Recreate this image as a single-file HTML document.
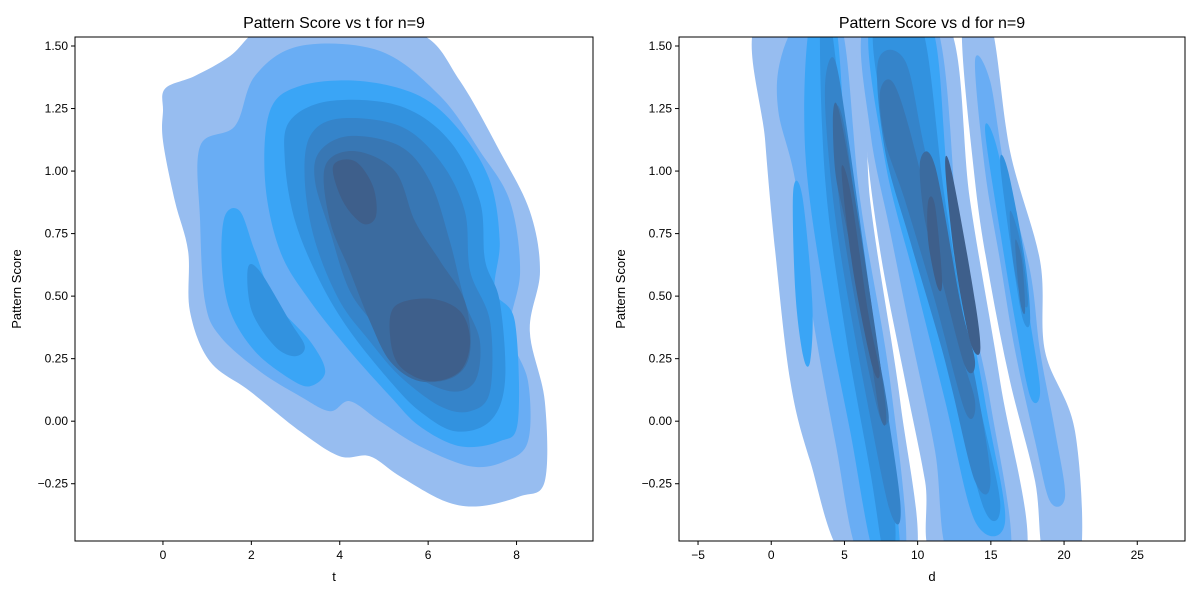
<!DOCTYPE html>
<html><head><meta charset="utf-8"><title>Pattern Score KDE</title>
<style>
html,body{margin:0;padding:0;background:#fff;}
svg{display:block;font-family:"Liberation Sans","DejaVu Sans",sans-serif;}
</style></head>
<body>
<svg id="chart" width="1200" height="600" viewBox="0 0 1200 600" xmlns="http://www.w3.org/2000/svg"></svg>
<script>
// ---------- data ----------
const levelColors = ["#97bdf0","#69adf4","#3aa5f6","#3292df","#3584ca","#3877b4","#3b6b9f","#3e5f8b"];
const leftXTicks = [0,2,4,6,8];
const rightXTicks = [-5,0,5,10,15,20,25];
const yTicks = [-0.25,0,0.25,0.5,0.75,1.0,1.25,1.5];
const yTickLabels = ["\u22120.25","0.00","0.25","0.50","0.75","1.00","1.25","1.50"];

// left: [level, points(t, score)]
const leftContours = [
 [0,[[0,1.24],[0.05,1.33],[0.72,1.38],[1.52,1.46],[2.31,1.58],[3.78,1.6],[5.81,1.55],[6.72,1.36],[7.62,1.08],[8.30,0.84],[8.53,0.60],[8.30,0.36],[8.64,0.08],[8.64,-0.24],[8.08,-0.30],[7.17,-0.34],[6.38,-0.32],[5.36,-0.22],[4.68,-0.14],[4.0,-0.14],[3.10,-0.04],[1.97,0.12],[1.06,0.24],[0.61,0.44],[0.57,0.68],[0.27,0.88],[0,1.12]]],
 [1,[[0.84,1.10],[1.63,1.18],[2.08,1.38],[3.10,1.50],[4.91,1.48],[6.27,1.30],[7.17,1.08],[7.85,0.88],[8.08,0.60],[7.85,0.36],[8.26,0.16],[8.26,-0.08],[7.74,-0.16],[6.95,-0.18],[5.81,-0.10],[4.91,0.0],[4.23,0.08],[3.78,0.04],[3.10,0.10],[2.19,0.20],[1.29,0.34],[0.95,0.48],[0.84,0.80]]],
 [2,[[1.40,0.82],[1.74,0.84],[2.08,0.68],[2.53,0.48],[3.33,0.32],[3.67,0.20],[3.33,0.14],[2.87,0.17],[2.08,0.28],[1.52,0.44],[1.33,0.64]]],
 [2,[[2.42,1.24],[3.10,1.34],[4.46,1.36],[5.81,1.30],[6.72,1.16],[7.40,0.96],[7.62,0.72],[7.51,0.52],[7.96,0.40],[8.03,0.0],[7.62,-0.08],[6.72,-0.10],[5.81,-0.02],[5.14,0.10],[4.23,0.28],[3.33,0.48],[2.65,0.68],[2.31,0.96]]],
 [3,[[1.92,0.61],[2.19,0.60],[2.87,0.40],[3.21,0.30],[2.99,0.26],[2.53,0.30],[2.01,0.44]]],
 [3,[[2.87,1.20],[3.78,1.28],[5.36,1.26],[6.49,1.12],[7.17,0.88],[7.29,0.64],[7.62,0.48],[7.74,0.16],[7.40,0.0],[6.61,-0.04],[5.81,0.04],[5.14,0.16],[4.23,0.36],[3.55,0.56],[2.99,0.80],[2.76,1.04]]],
 [4,[[3.33,1.14],[4.0,1.21],[5.36,1.18],[6.27,1.04],[6.83,0.84],[6.95,0.60],[7.40,0.40],[7.40,0.12],[6.95,0.04],[6.27,0.06],[5.36,0.18],[4.68,0.32],[4.0,0.48],[3.44,0.72],[3.21,0.96]]],
 [5,[[3.55,1.08],[4.23,1.14],[5.36,1.10],[6.04,0.96],[6.49,0.72],[6.83,0.48],[7.17,0.32],[7.06,0.16],[6.49,0.12],[5.59,0.20],[4.91,0.36],[4.23,0.52],[3.78,0.76],[3.44,0.96]]],
 [6,[[3.67,1.02],[4.34,1.08],[5.25,1.00],[5.70,0.80],[6.27,0.64],[6.83,0.48],[6.95,0.28],[6.61,0.18],[5.81,0.16],[5.14,0.24],[4.68,0.40],[4.23,0.60],[3.78,0.80]]],
 [7,[[3.85,1.02],[4.34,1.04],[4.75,0.94],[4.82,0.82],[4.52,0.79],[4.07,0.88]]],
 [7,[[5.25,0.46],[6.04,0.49],[6.72,0.44],[6.95,0.32],[6.72,0.20],[6.04,0.16],[5.36,0.22],[5.14,0.34]]]
];
// right: [level, points(d, score)]
const rightContours = [
 [0,[[-0.96,1.6],[5.73,1.6],[6.76,0.88],[8.81,0.08],[9.83,-0.55],[5.05,-0.55],[2.66,-0.16],[1.30,0.16],[0.27,0.68],[-0.41,1.12]]],
 [0,[[6.21,1.6],[12.0,1.6],[13.58,0.88],[15.63,0.16],[17.34,-0.55],[11.19,-0.55],[10.51,-0.24],[9.15,0.16],[7.44,0.68],[6.42,1.16]]],
 [0,[[13.04,1.6],[14.95,1.6],[16.31,1.08],[18.36,0.64],[18.70,0.28],[20.75,-0.04],[21.09,-0.55],[18.70,-0.55],[18.02,-0.24],[16.31,0.16],[14.95,0.56],[13.92,0.96]]],
 [1,[[1.98,1.6],[4.71,1.6],[6.08,0.88],[8.12,0.16],[9.15,-0.55],[6.08,-0.55],[4.37,-0.08],[2.66,0.48],[1.64,0.96],[0.48,1.24],[0.61,1.44]]],
 [1,[[6.42,1.6],[11.19,1.6],[12.90,0.68],[14.95,0.08],[16.31,-0.55],[12.22,-0.55],[11.19,-0.12],[9.49,0.36],[8.12,0.76],[6.76,1.16]]],
 [1,[[13.92,1.44],[14.95,1.36],[15.97,1.00],[17.68,0.60],[18.36,0.28],[19.39,-0.04],[20.07,-0.30],[19.04,-0.32],[18.02,-0.08],[16.66,0.28],[15.63,0.64],[14.61,1.00]]],
 [2,[[2.66,1.6],[4.37,1.6],[5.39,0.88],[7.44,0.16],[8.81,-0.55],[7.10,-0.55],[5.39,-0.04],[3.69,0.48],[2.32,1.08]]],
 [2,[[1.50,0.92],[2.12,0.90],[2.80,0.48],[2.66,0.24],[2.18,0.26],[1.64,0.52]]],
 [2,[[6.76,1.6],[10.85,1.6],[12.22,0.88],[14.61,0.08],[15.97,-0.40],[13.92,-0.40],[11.88,0.08],[9.83,0.56],[7.78,1.04]]],
 [2,[[14.61,1.16],[15.29,1.12],[16.66,0.76],[17.68,0.40],[18.36,0.12],[17.68,0.10],[16.66,0.40],[15.63,0.76]]],
 [3,[[3.34,1.6],[4.03,1.6],[5.05,1.12],[6.76,0.36],[8.46,-0.40],[7.78,-0.55],[6.76,-0.20],[5.05,0.36],[3.69,0.96]]],
 [3,[[7.10,1.6],[10.17,1.6],[11.88,0.88],[13.92,0.16],[15.63,-0.32],[14.61,-0.36],[12.56,0.08],[10.51,0.56],[8.46,0.96],[7.44,1.28]]],
 [3,[[15.63,1.04],[16.18,1.00],[17.34,0.64],[17.68,0.40],[17.13,0.42],[16.31,0.72]]],
 [4,[[3.69,1.36],[4.37,1.44],[5.39,1.08],[7.10,0.36],[8.81,-0.32],[8.12,-0.36],[6.42,0.12],[4.71,0.68],[3.89,1.08]]],
 [4,[[7.30,1.44],[9.15,1.44],[10.51,1.08],[12.90,0.48],[14.95,-0.20],[13.92,-0.24],[11.88,0.24],[9.49,0.72],[7.78,1.08]]],
 [4,[[16.31,0.84],[17.00,0.72],[17.54,0.48],[17.13,0.48],[16.52,0.64]]],
 [5,[[4.37,1.24],[5.05,1.16],[6.42,0.56],[7.78,0.12],[7.99,0.0],[7.30,0.04],[5.73,0.48],[4.57,0.92]]],
 [5,[[7.44,1.32],[8.46,1.34],[10.17,1.00],[12.56,0.36],[13.92,0.08],[13.24,0.04],[11.19,0.48],[9.15,0.88],[7.78,1.12]]],
 [5,[[16.66,0.72],[17.13,0.64],[17.34,0.44],[17.00,0.48]]],
 [6,[[4.23,1.24],[4.71,1.22],[6.08,0.76],[7.78,0.08],[7.44,0.02],[6.42,0.40],[5.05,0.80],[4.37,1.00]]],
 [6,[[10.17,1.04],[11.19,1.02],[12.90,0.48],[13.92,0.24],[13.24,0.22],[11.67,0.56],[10.51,0.80]]],
 [7,[[10.72,0.88],[11.19,0.86],[11.67,0.56],[11.33,0.54],[10.72,0.72]]],
 [7,[[11.88,1.02],[12.35,0.99],[13.92,0.48],[14.27,0.28],[13.58,0.32],[12.56,0.64]]],
 [7,[[4.8,1.0],[5.4,0.92],[6.6,0.44],[7.4,0.2],[6.9,0.22],[5.6,0.6]]]
];

// ---------- drawing ----------
const NS="http://www.w3.org/2000/svg";
const svg=document.getElementById('chart');
function mk(tag,attrs,parent){const e=document.createElementNS(NS,tag);for(const k in attrs)e.setAttribute(k,attrs[k]);(parent||svg).appendChild(e);return e;}
function smooth(pts){
 const n=pts.length;let d=`M${pts[0][0].toFixed(1)},${pts[0][1].toFixed(1)}`;
 for(let i=0;i<n;i++){const p0=pts[(i-1+n)%n],p1=pts[i],p2=pts[(i+1)%n],p3=pts[(i+2)%n];
  const c1=[p1[0]+(p2[0]-p0[0])/6,p1[1]+(p2[1]-p0[1])/6],c2=[p2[0]-(p3[0]-p1[0])/6,p2[1]-(p3[1]-p1[1])/6];
  d+=`C${c1[0].toFixed(1)},${c1[1].toFixed(1)} ${c2[0].toFixed(1)},${c2[1].toFixed(1)} ${p2[0].toFixed(1)},${p2[1].toFixed(1)}`;}
 return d+'Z';}

function panel(opts){
 const {x0,x1,y0,y1,xmin,xmax,ymin,ymax,xticks,contours,title,xlabel,id}=opts;
 const sx=v=>x0+(v-xmin)/(xmax-xmin)*(x1-x0);
 const sy=v=>y1-(v-ymin)/(ymax-ymin)*(y1-y0);
 const g=mk('g',{});
 
 
 const cp=mk('clipPath',{id:id+'-clip'},g);mk('rect',{x:x0,y:y0,width:x1-x0,height:y1-y0},cp);
 const cg=mk('g',{'clip-path':`url(#${id}-clip)`},g);
 
 
 contours.forEach((c,i)=>{
  const p=mk('path',{d:smooth(c[1].map(q=>[sx(q[0]),sy(q[1])])),fill:levelColors[c[0]]},cg);
  
  
 });
 const fr=mk('rect',{x:x0,y:y0,width:x1-x0,height:y1-y0,fill:'none',stroke:'#000','stroke-width':1},g);
 
 
 xticks.forEach(t=>{const X=sx(t);mk('line',{x1:X,x2:X,y1:y1,y2:y1+4,stroke:'#000'},g);
  const tx=mk('text',{x:X,y:y1+18,'font-size':12,'text-anchor':'middle'},g);tx.textContent=(t<0?'\u2212'+(-t):t);
  
  });
 yTicks.forEach((t,i)=>{const Y=sy(t);mk('line',{x1:x0-4,x2:x0,y1:Y,y2:Y,stroke:'#000'},g);
  const tx=mk('text',{x:x0-7,y:Y+4,'font-size':12,'text-anchor':'end'},g);tx.textContent=yTickLabels[i];
  
  });
 const tt=mk('text',{x:(x0+x1)/2,y:y0-9,'font-size':16,'text-anchor':'middle'},g);tt.textContent=title;
 
 
 const xl=mk('text',{x:(x0+x1)/2,y:y1+40,'font-size':13,'text-anchor':'middle'},g);xl.textContent=xlabel;
 
 
 const yl=mk('text',{x:0,y:0,'font-size':13,'text-anchor':'middle',transform:`translate(${x0-54},${(y0+y1)/2}) rotate(-90)`},g);yl.textContent='Pattern Score';
 
 
}
panel({id:'left',x0:75,x1:593,y0:37,y1:541,xmin:-1.99,xmax:9.73,ymin:-0.479,ymax:1.536,xticks:leftXTicks,contours:leftContours,title:'Pattern Score vs t for n=9',xlabel:'t'});
panel({id:'right',x0:679,x1:1185,y0:37,y1:541,xmin:-6.3,xmax:28.26,ymin:-0.479,ymax:1.536,xticks:rightXTicks,contours:rightContours,title:'Pattern Score vs d for n=9',xlabel:'d'});
</script>
</body></html>
